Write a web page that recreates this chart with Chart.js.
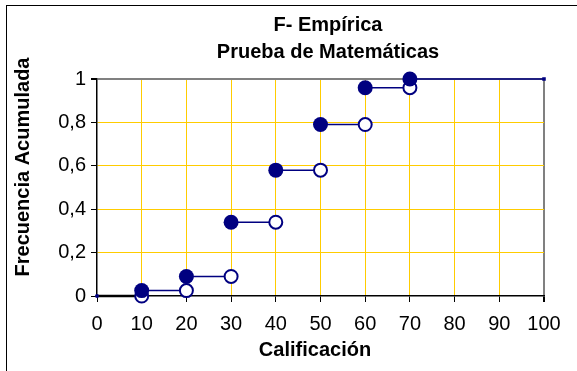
<!DOCTYPE html>
<html>
<head>
<meta charset="utf-8">
<script src="https://cdn.jsdelivr.net/npm/chart.js@4"></script>
<style>
  body { margin: 0; background: #fff; }
  #wrap { position: relative; width: 577px; height: 371px; }
  #frame { position: absolute; left: 6px; top: 5px; width: 600px; height: 400px;
           border-left: 1.5px solid #000; border-top: 1.5px solid #000; }
  #c { position: absolute; left: 0; top: 0; }
</style>
</head>
<body>
<div id="wrap">
  <div id="frame"></div>
  <canvas id="c" width="577" height="371"></canvas>
</div>
<script>
// Calificación (x) y frecuencia acumulada (y)
const grades = [10, 20, 30, 40, 50, 60, 70];
const cumFreq = [0.025, 0.09, 0.34, 0.58, 0.79, 0.96, 1.0];
const xMin = 0, xMax = 100;
const titleLines = ['F- Empírica', 'Prueba de Matemáticas'];
const xTitle = 'Calificación';
const yTitle = 'Frecuencia Acumulada';

const navy = '#000080';
const gold = '#FFCC00';

// puntos rellenos: F(x) en cada calificación
const filledPts = grades.map((g, i) => ({x: g, y: cumFreq[i]}));
// puntos abiertos: valor anterior (límite por la izquierda)
const openPts = grades.map((g, i) => ({x: g, y: i === 0 ? 0 : cumFreq[i - 1]}));

// tramos horizontales
const segs = grades.map((g, i) => ({
  type: 'scatter',
  showLine: true,
  data: [{x: g, y: cumFreq[i]}, {x: i < grades.length - 1 ? grades[i + 1] : xMax, y: cumFreq[i]}],
  borderColor: navy,
  borderWidth: 1.5,
  pointRadius: i < grades.length - 1 ? 0 : [0, 2.5],
  pointStyle: 'rect',
  pointBackgroundColor: navy,
  pointBorderWidth: 0,
  clip: false,
  order: 3
}));

const firstSeg = {
  type: 'scatter',
  showLine: true,
  data: [{x: xMin, y: 0}, {x: grades[0], y: 0}],
  borderColor: '#000',
  borderWidth: 2.5,
  pointRadius: [2, 0],
  pointBackgroundColor: navy,
  pointBorderWidth: 0,
  clip: false,
  order: 3
};

function tickFmt(v) {
  return String(Math.round(v * 10) / 10).replace('.', ',');
}

const titlesPlugin = {
  id: 'titles',
  afterDraw(chart) {
    const ctx = chart.ctx;
    ctx.save();
    ctx.fillStyle = '#000';
    ctx.font = 'bold 20px "Liberation Sans", Arial, sans-serif';
    ctx.textAlign = 'center';
    ctx.textBaseline = 'middle';
    ctx.fillText(titleLines[0], 328, 25);
    ctx.fillText(titleLines[1], 328, 52);
    ctx.fillText(xTitle, 315, 350);
    ctx.translate(23, 167);
    ctx.rotate(-Math.PI / 2);
    ctx.fillText(yTitle, 0, 0);
    ctx.restore();
  }
};

new Chart(document.getElementById('c'), {
  type: 'scatter',
  data: {
    datasets: [
      firstSeg,
      ...segs,
      {
        data: openPts,
        pointRadius: 6.5,
        pointHoverRadius: 6.5,
        pointBackgroundColor: '#fff',
        pointBorderColor: navy,
        pointBorderWidth: 2,
        clip: false,
        order: 2
      },
      {
        data: filledPts,
        pointRadius: 7.5,
        pointHoverRadius: 7.5,
        pointBackgroundColor: navy,
        pointBorderColor: navy,
        pointBorderWidth: 0,
        clip: false,
        order: 1
      }
    ]
  },
  options: {
    responsive: false,
    animation: false,
    layout: { padding: { top: 79, right: 33, left: 0, bottom: 0 } },
    plugins: {
      legend: { display: false },
      tooltip: { enabled: false }
    },
    scales: {
      x: {
        type: 'linear',
        min: xMin,
        max: xMax,
        afterFit: function(scale) { scale.height = 75; },
        ticks: {
          stepSize: 10,
          padding: 10,
          color: '#000',
          font: { family: '"Liberation Sans", Arial, sans-serif', size: 20 }
        },
        grid: {
          color: function(ctx) {
            if (ctx.tick.value === xMax) return '#808080';
            if (ctx.tick.value === xMin) return 'rgba(0,0,0,0)';
            return gold;
          },
          lineWidth: function(ctx) { return ctx.tick.value === xMax ? 2 : 1; },
          tickColor: '#000',
          tickLength: 6
        },
        border: { color: '#000', width: 1.5 }
      },
      y: {
        min: 0,
        max: 1,
        afterFit: function(scale) { scale.width = 97; },
        ticks: {
          stepSize: 0.2,
          padding: 5,
          color: '#000',
          callback: tickFmt,
          font: { family: '"Liberation Sans", Arial, sans-serif', size: 20 }
        },
        grid: {
          color: function(ctx) {
            if (ctx.tick.value === 1) return '#808080';
            if (ctx.tick.value === 0) return 'rgba(0,0,0,0)';
            return gold;
          },
          lineWidth: function(ctx) { return ctx.tick.value === 1 ? 2 : 1; },
          tickColor: '#000',
          tickLength: 6
        },
        border: { color: '#000', width: 1.5 }
      }
    }
  },
  plugins: [titlesPlugin]
});
</script>
</body>
</html>
